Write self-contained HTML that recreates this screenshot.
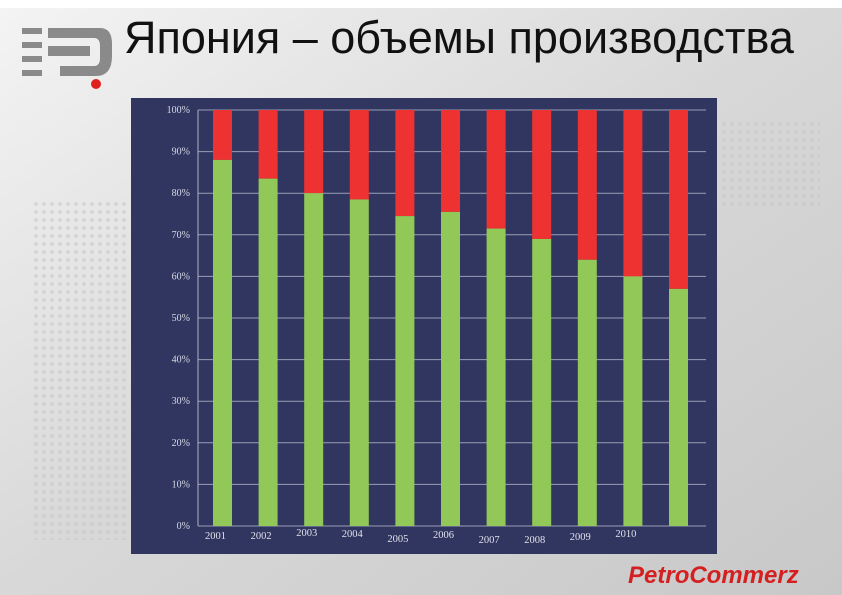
<!DOCTYPE html>
<html><head><meta charset="utf-8"><style>
body{margin:0;width:842px;height:595px;overflow:hidden;background:#e4e4e4;font-family:"Liberation Sans",sans-serif;position:relative}
#bg{position:absolute;left:0;top:0}
#title{position:absolute;left:124px;top:12px;font-size:45px;color:#111;white-space:nowrap}
#chart{position:absolute;left:0;top:0}
</style></head><body>
<svg id="bg" width="842" height="595">
<defs>
<linearGradient id="g" x1="0" y1="0" x2="1" y2="1"><stop offset="0" stop-color="#f4f4f4"/><stop offset="0.5" stop-color="#d8d8d8"/><stop offset="1" stop-color="#c8c8c8"/></linearGradient>
<pattern id="dots" width="8" height="8" patternUnits="userSpaceOnUse"><circle cx="4" cy="4" r="2" fill="#c4c4c4"/></pattern>
</defs>
<rect width="842" height="595" fill="url(#g)"/>
<rect x="30" y="200" width="100" height="340" fill="url(#dots)" opacity="0.5"/>
<rect x="720" y="120" width="100" height="90" fill="url(#dots)" opacity="0.45"/>
<rect x="0" y="0" width="842" height="8" fill="#fff"/>
<g>
<rect x="22" y="28" width="20" height="6" fill="#8a8a8a"/><rect x="22" y="42" width="20" height="6" fill="#8a8a8a"/><rect x="22" y="56" width="20" height="6" fill="#8a8a8a"/><rect x="22" y="70" width="20" height="6" fill="#8a8a8a"/>
<path d="M48 28 H100 Q112 28 112 44 V56 Q112 76 96 76 H60 V66 H94 Q100 66 100 58 V46 Q100 38 94 38 H48 Z" fill="#8a8a8a"/>
<path d="M48 46 H90 V56 H48 Z" fill="#8a8a8a"/>
<circle cx="96" cy="84" r="5" fill="#e02020"/>
</g>
<g>
<text x="628" y="583" font-family="Liberation Sans" font-weight="bold" font-style="italic" font-size="24" fill="#d42020">PetroCommerz</text>
</g>
</svg>
<div id="title">Япония – объемы производства</div>
<svg id="chart" width="842" height="595"></svg>
<script>
const years=["2001","2002","2003","2004","2005","2006","2007","2008","2009","2010",""];
const greenShare=[88,83.5,80,78.5,74.5,75.5,71.5,69,64,60,57];
const ticks=[0,10,20,30,40,50,60,70,80,90,100];
const labelDy=[0,0,-3,-2,3,-1,4,4,1,-2,0];
const NS="http://www.w3.org/2000/svg";
const svg=document.getElementById('chart');
function mk(t,a){const e=document.createElementNS(NS,t);for(const k in a)e.setAttribute(k,a[k]);svg.appendChild(e);return e;}
const x0=198,x1=706,yTop=110,yBot=526;
const y=v=>yBot-(v/100)*(yBot-yTop);
const step=45.6,bw=19,firstX=213;
const xb=i=>firstX+i*step;
const bgr=mk('rect',{x:131,y:98,width:586,height:456,fill:'#303660'});


ticks.forEach(t=>{
 const l=mk('line',{x1:x0,x2:x1,y1:y(t),y2:y(t),stroke:'#9a9db4','stroke-width':1});
 
 
 const tx=mk('text',{x:190,y:y(t)+3,'text-anchor':'end','font-family':'Liberation Serif','font-size':10,fill:'#d8d8e4'});
 tx.textContent=t+'%';
 
 
});
const ax=mk('line',{x1:x0,x2:x0,y1:yTop,y2:yBot,stroke:'#b0b3c8'});


greenShare.forEach((g,i)=>{
 const r=mk('rect',{x:xb(i),y:y(100),width:bw,height:y(g)-y(100),fill:'#ee3232'});
 
 
 const gr=mk('rect',{x:xb(i),y:y(g),width:bw,height:yBot-y(g),fill:'#92c857'});
 
 
 if(years[i]){
  const t=mk('text',{x:xb(i)+bw/2-7,y:yBot+13+labelDy[i],'text-anchor':'middle','font-family':'Liberation Serif','font-size':10.5,fill:'#e0e0ea'});
  t.textContent=years[i];
  
  
 }
});
</script>
</body></html>
